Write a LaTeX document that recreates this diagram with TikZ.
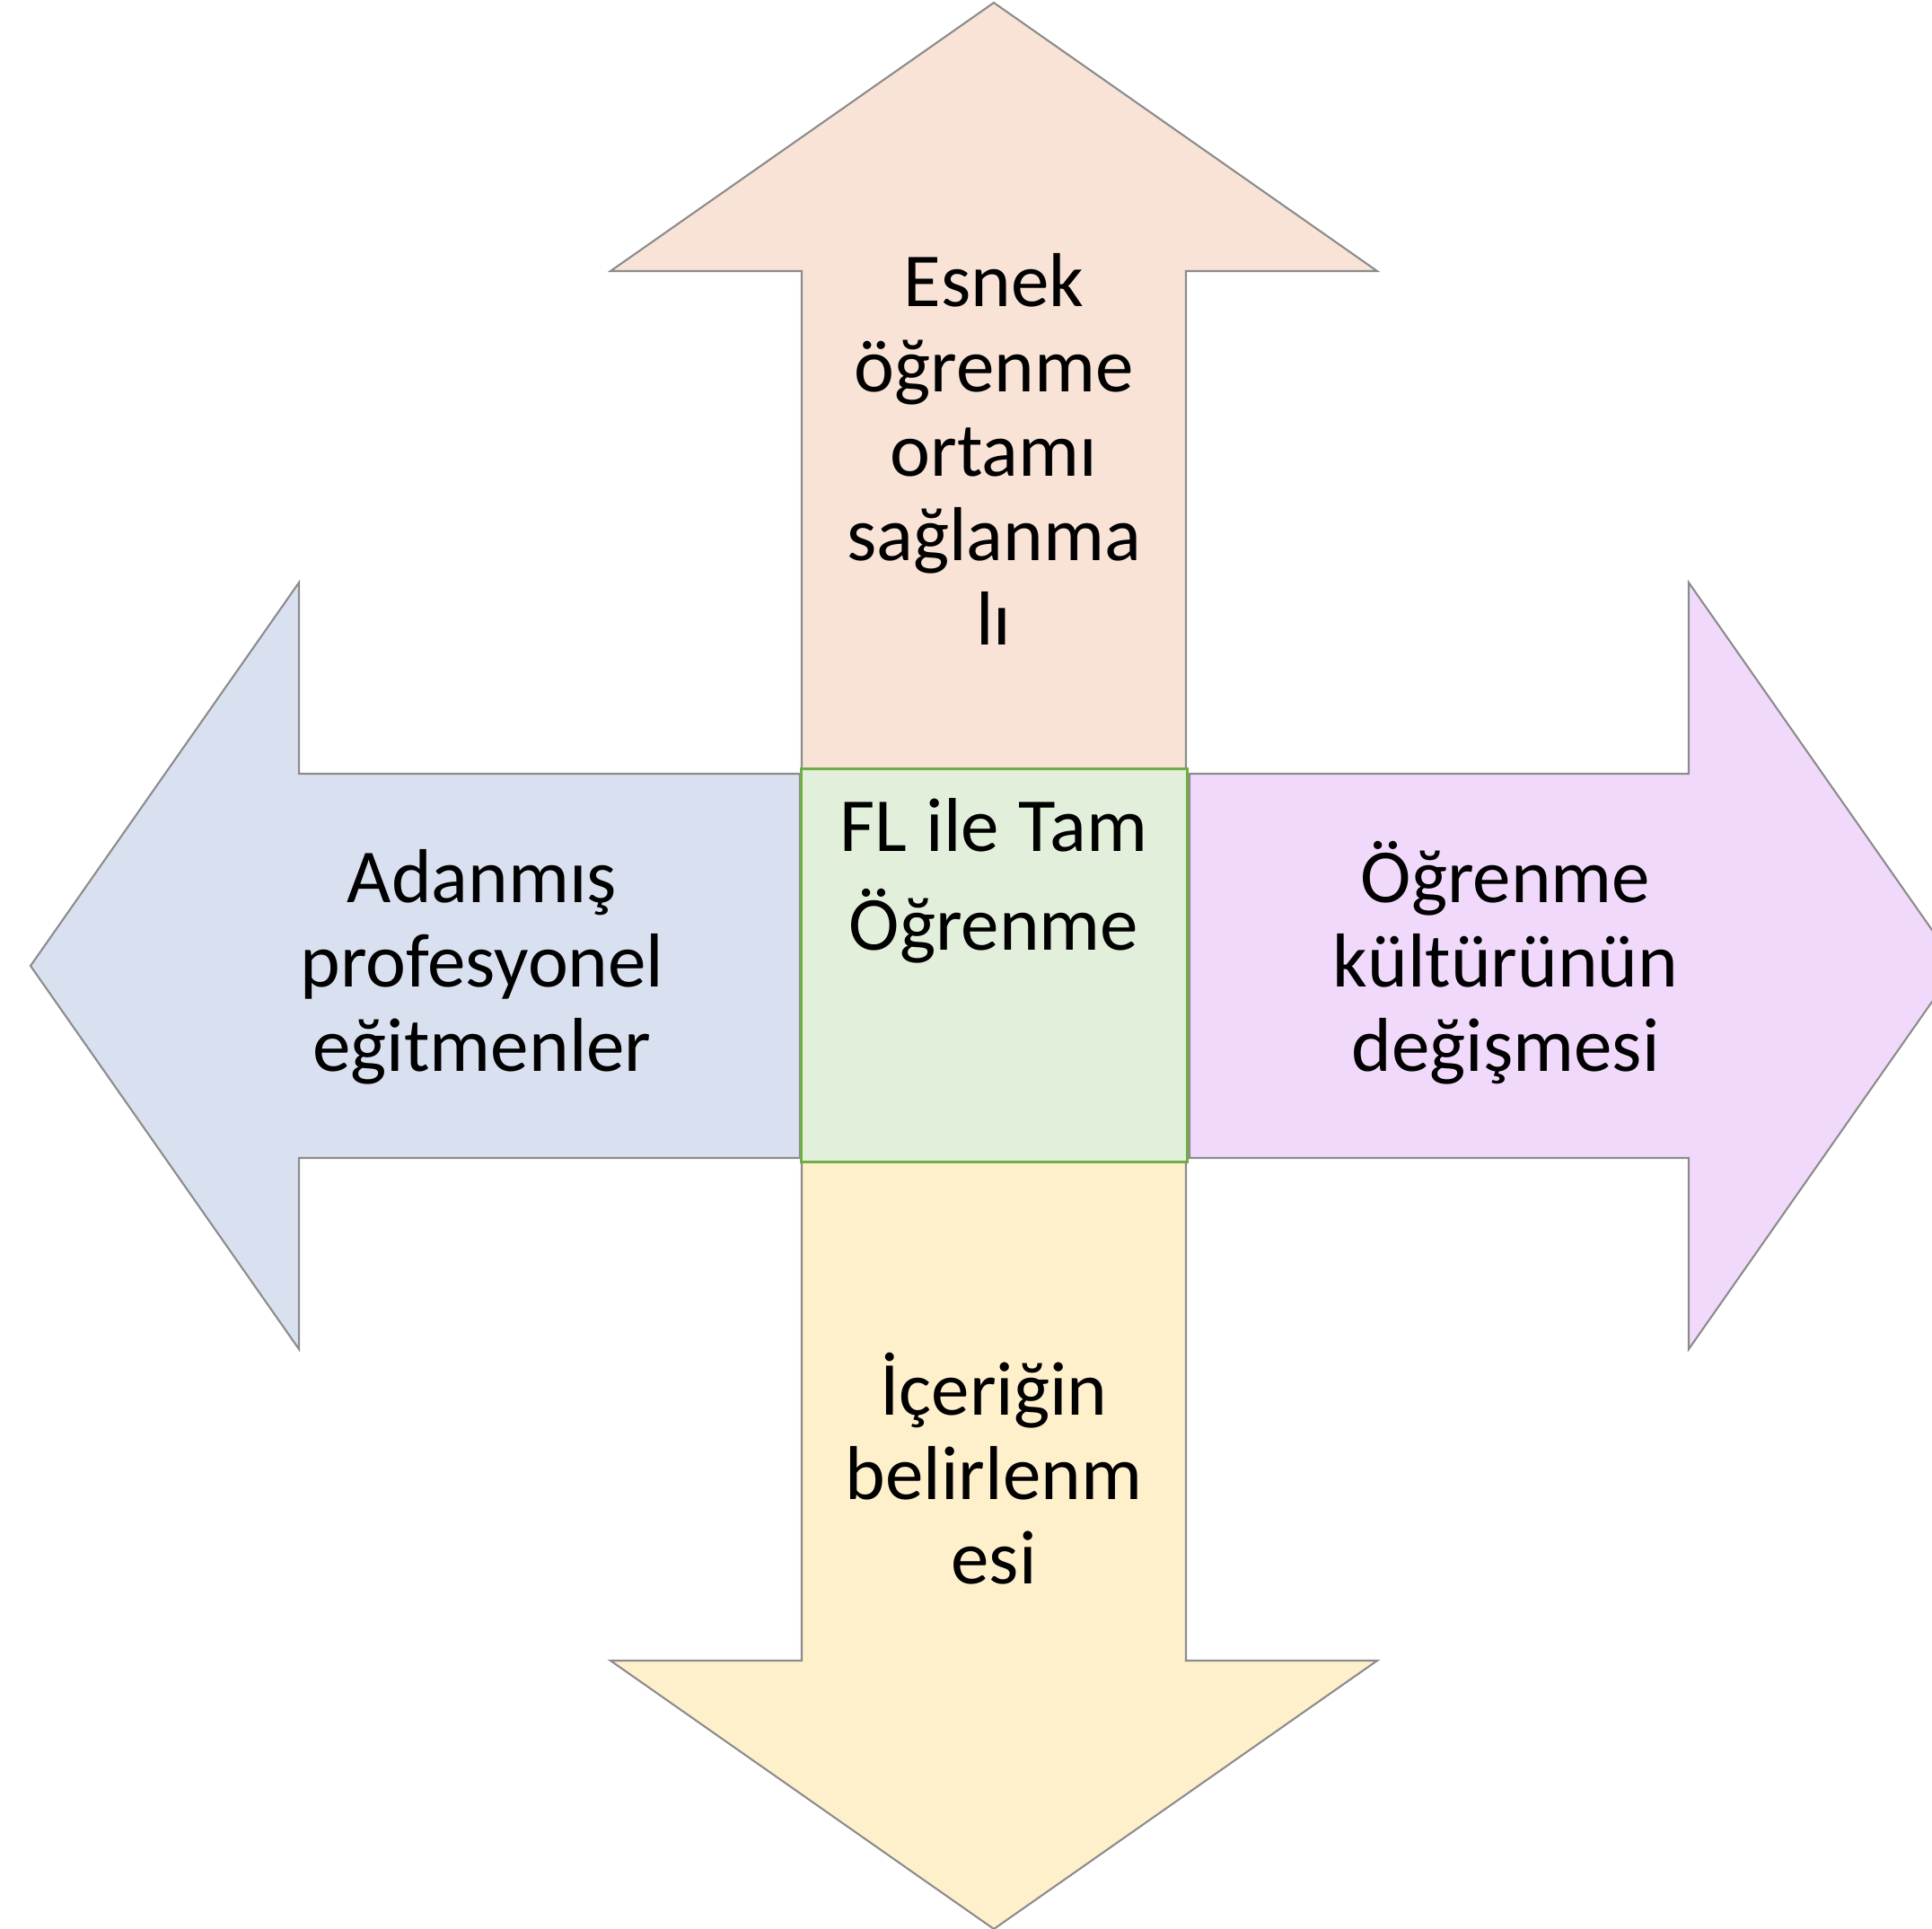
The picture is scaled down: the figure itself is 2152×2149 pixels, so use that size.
\documentclass[tikz,border=0pt]{standalone}
\usepackage{fontspec}
\setmainfont{Carlito}
\definecolor{edgegray}{HTML}{8C8C8C}
\definecolor{upfill}{HTML}{F8E3D6}
\definecolor{leftfill}{HTML}{D9E0EF}
\definecolor{rightfill}{HTML}{F1D9FC}
\definecolor{downfill}{HTML}{FFF0CC}
\definecolor{corefill}{HTML}{E2EFDA}
\definecolor{coreedge}{HTML}{70AD47}

\begin{document}
\begin{tikzpicture}[x=0.01cm,y=-0.01cm]
\tikzstyle{arr}=[draw=edgegray, line width=0.6pt, line join=miter]
\tikzstyle{core}=[rectangle, draw=coreedge, line width=0.9pt, fill=corefill, minimum width=4.29cm, minimum height=4.37cm, inner sep=0pt]
\tikzstyle{lbl}=[font=\fontsize{24.2}{26.75}\selectfont, text width=7cm, align=center, inner sep=0pt, anchor=base]
  \useasboundingbox (0,0) rectangle (2152,2149);
  \clip (0,0) rectangle (2152,2149);
  \filldraw[arr, fill=upfill] (893,860) -- (893,302) -- (680,302) -- (1107,3) -- (1534,302) -- (1321,302) -- (1321,860) -- cycle;
  \filldraw[arr, fill=leftfill] (891,862) -- (333,862) -- (333,649) -- (34,1076) -- (333,1503) -- (333,1290) -- (891,1290) -- cycle;
  \filldraw[arr, fill=rightfill] (1325,862) -- (1881,862) -- (1881,649) -- (2180,1076) -- (1881,1503) -- (1881,1290) -- (1325,1290) -- cycle;
  \filldraw[arr, fill=downfill] (893,1292) -- (893,1850) -- (680,1850) -- (1107,2149) -- (1534,1850) -- (1321,1850) -- (1321,1292) -- cycle;
  \node[core] (box) at (1107.5,1075.5) {};
  \node[lbl, font=\fontsize{24.2}{31.3}\selectfont] (fl) at (1107,948) {\spaceskip=0.25em\relax FL ile Tam\\Öğrenme};
  \node[lbl] (esnek) at (1107,342) {Esnek\\öğrenme\\ortamı\\sağlanma\\lı};
  \node[lbl] (adanmis) at (537,1005) {Adanmış\\profesyonel\\eğitmenler};
  \node[lbl] (kultur) at (1677,1005) {Öğrenme\\kültürünün\\değişmesi};
  \node[lbl] (icerik) at (1107,1576) {İçeriğin\\belirlenm\\esi};
\end{tikzpicture}
\end{document}
